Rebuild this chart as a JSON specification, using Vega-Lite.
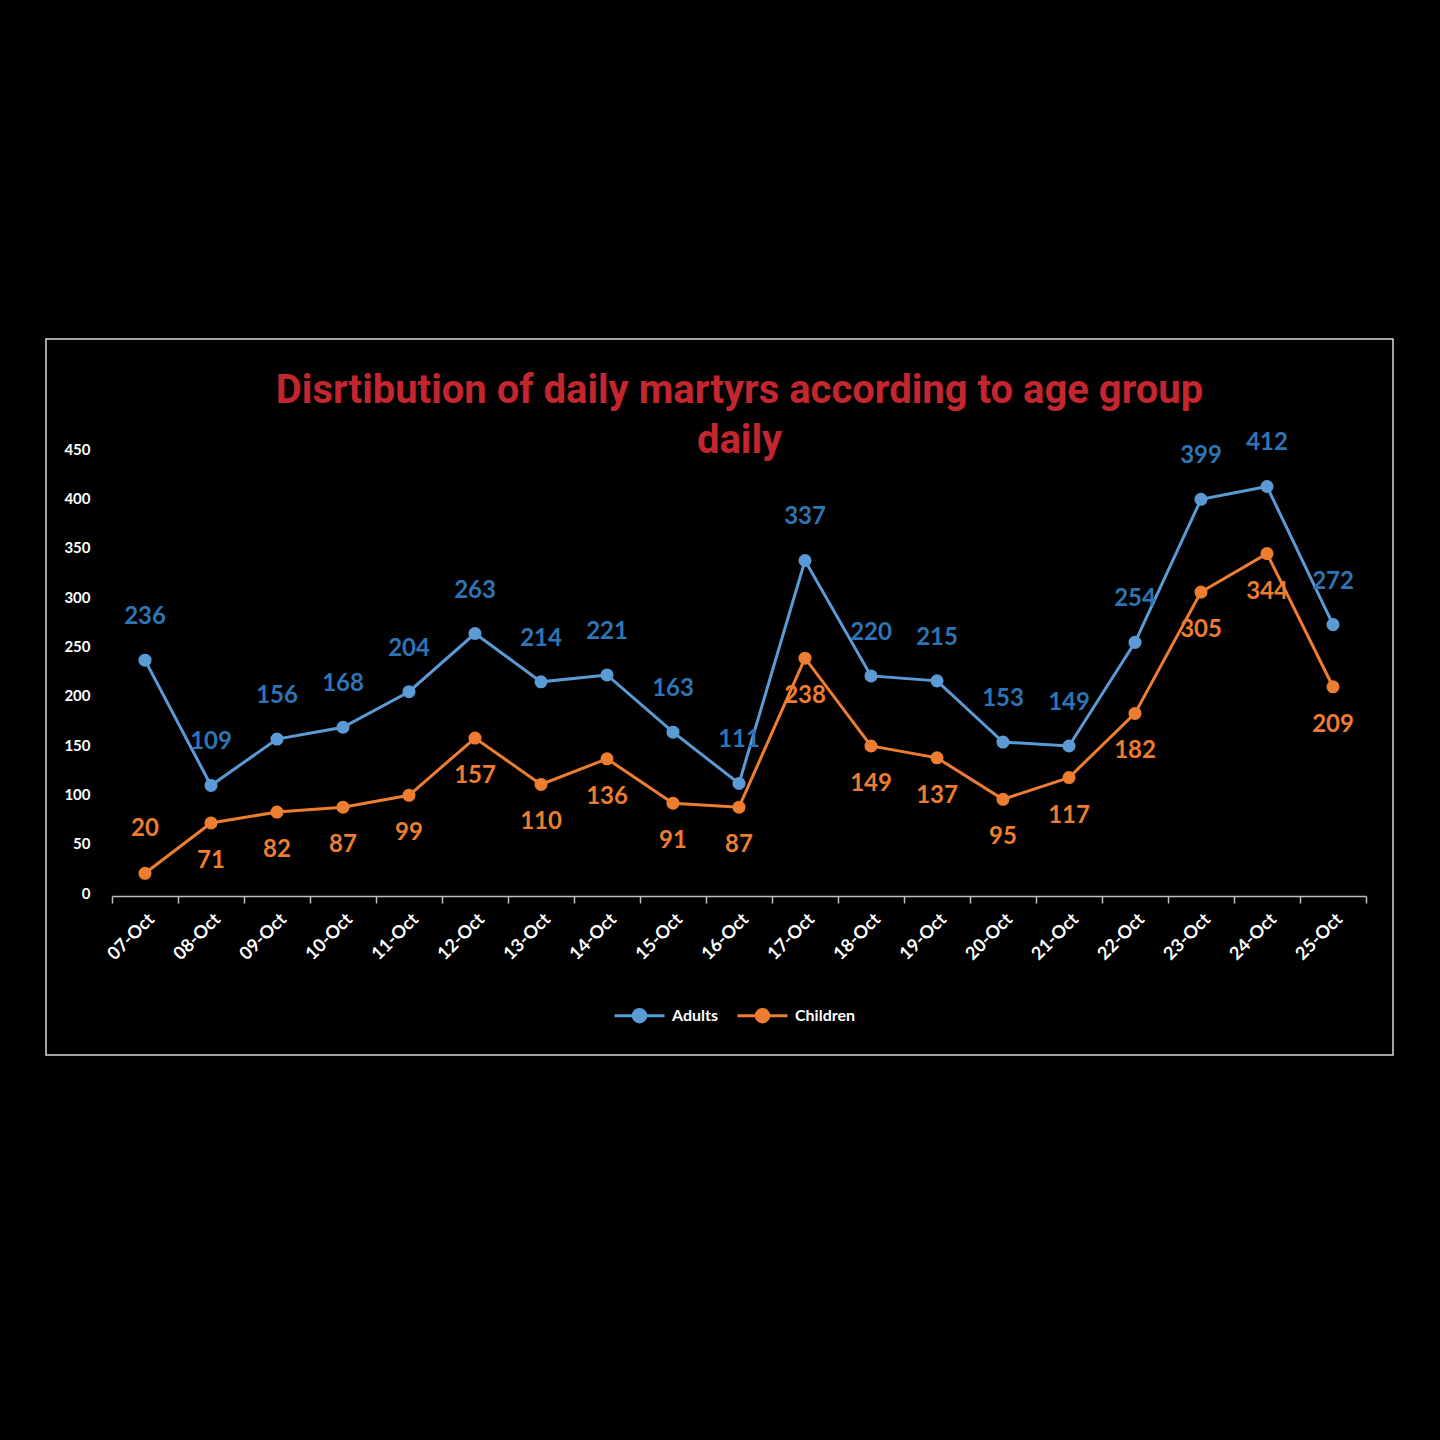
{
  "$schema": "https://vega.github.io/schema/vega-lite/v6.json",
  "width": 1347,
  "height": 716,
  "autosize": {"type": "none"},
  "padding": {"left": 46, "top": 339, "right": 47, "bottom": 385},
  "background": "#000000",
  "config": {
    "view": {"stroke": "#d9d9d9", "strokeWidth": 1.5, "fill": "#000000"},
    "font": "Lato"
  },
  "title": {
    "text": ["Disrtibution of  daily martyrs according to age group", "daily"],
    "color": "#C3262F",
    "font": "Roboto",
    "fontSize": 40,
    "fontWeight": "bold",
    "anchor": "middle",
    "lineHeight": 50,
    "offset": -122,
    "dx": 20
  },
  "data": {
    "values": [
      {"date": "07-Oct", "group": "Adults", "value": 236},
      {"date": "08-Oct", "group": "Adults", "value": 109},
      {"date": "09-Oct", "group": "Adults", "value": 156},
      {"date": "10-Oct", "group": "Adults", "value": 168},
      {"date": "11-Oct", "group": "Adults", "value": 204},
      {"date": "12-Oct", "group": "Adults", "value": 263},
      {"date": "13-Oct", "group": "Adults", "value": 214},
      {"date": "14-Oct", "group": "Adults", "value": 221},
      {"date": "15-Oct", "group": "Adults", "value": 163},
      {"date": "16-Oct", "group": "Adults", "value": 111},
      {"date": "17-Oct", "group": "Adults", "value": 337},
      {"date": "18-Oct", "group": "Adults", "value": 220},
      {"date": "19-Oct", "group": "Adults", "value": 215},
      {"date": "20-Oct", "group": "Adults", "value": 153},
      {"date": "21-Oct", "group": "Adults", "value": 149},
      {"date": "22-Oct", "group": "Adults", "value": 254},
      {"date": "23-Oct", "group": "Adults", "value": 399},
      {"date": "24-Oct", "group": "Adults", "value": 412},
      {"date": "25-Oct", "group": "Adults", "value": 272},
      {"date": "07-Oct", "group": "Children", "value": 20},
      {"date": "08-Oct", "group": "Children", "value": 71},
      {"date": "09-Oct", "group": "Children", "value": 82},
      {"date": "10-Oct", "group": "Children", "value": 87},
      {"date": "11-Oct", "group": "Children", "value": 99},
      {"date": "12-Oct", "group": "Children", "value": 157},
      {"date": "13-Oct", "group": "Children", "value": 110},
      {"date": "14-Oct", "group": "Children", "value": 136},
      {"date": "15-Oct", "group": "Children", "value": 91},
      {"date": "16-Oct", "group": "Children", "value": 87},
      {"date": "17-Oct", "group": "Children", "value": 238},
      {"date": "18-Oct", "group": "Children", "value": 149},
      {"date": "19-Oct", "group": "Children", "value": 137},
      {"date": "20-Oct", "group": "Children", "value": 95},
      {"date": "21-Oct", "group": "Children", "value": 117},
      {"date": "22-Oct", "group": "Children", "value": 182},
      {"date": "23-Oct", "group": "Children", "value": 305},
      {"date": "24-Oct", "group": "Children", "value": 344},
      {"date": "25-Oct", "group": "Children", "value": 209}
    ]
  },
  "encoding": {
    "x": {
      "field": "date",
      "type": "ordinal",
      "sort": null,
      "bandPosition": 0.5,
      "scale": {"type": "band", "paddingInner": 0, "paddingOuter": 0, "range": [66, 1320]},
      "axis": {
        "title": null,
        "tickBand": "extent",
        "labelAngle": -45,
        "labelColor": "#ffffff",
        "labelFont": "Lato",
        "labelFontSize": 18,
        "labelFontWeight": "bold",
        "labelPadding": 7,
        "domainColor": "#bfbfbf",
        "domainWidth": 1.5,
        "tickColor": "#bfbfbf",
        "tickWidth": 1.5,
        "tickSize": 7,
        "grid": false,
        "offset": -159
      }
    },
    "y": {
      "field": "value",
      "type": "quantitative",
      "scale": {"domain": [0, 450], "range": [554, 110], "nice": false},
      "axis": {
        "title": null,
        "values": [0, 50, 100, 150, 200, 250, 300, 350, 400, 450],
        "domain": false,
        "ticks": false,
        "tickSize": 0,
        "grid": false,
        "labelColor": "#ffffff",
        "labelFont": "Lato",
        "labelFontSize": 15,
        "labelFontWeight": "bold",
        "labelPadding": 0,
        "offset": -44
      }
    }
  },
  "layer": [
    {
      "mark": {"type": "line", "strokeWidth": 3},
      "encoding": {
        "color": {
          "field": "group",
          "type": "nominal",
          "scale": {"domain": ["Adults", "Children"], "range": ["#5B9BD5", "#ED7D31"]},
          "legend": {
            "title": null,
            "orient": "none",
            "legendX": 567,
            "legendY": 650,
            "direction": "horizontal",
            "padding": 0,
            "symbolType": "M-1,0L1,0M-0.25,0A0.25,0.25,0,1,1,0.25,0A0.25,0.25,0,1,1,-0.25,0",
            "symbolSize": 2500,
            "symbolStrokeWidth": 3,
            "labelColor": "#ffffff",
            "labelFont": "Lato",
            "labelFontSize": 16,
            "labelFontWeight": "bold",
            "labelOffset": 6,
            "columnPadding": 12,
            "encode": {
              "symbols": {
                "update": {
                  "fill": {"scale": "color", "field": "value"},
                  "stroke": {"scale": "color", "field": "value"},
                  "opacity": {"value": 1}
                }
              }
            }
          }
        }
      }
    },
    {
      "mark": {"type": "point", "filled": true, "size": 170, "opacity": 1},
      "encoding": {
        "color": {"field": "group", "type": "nominal"}
      }
    },
    {
      "transform": [{"filter": "datum.group === 'Adults'"}],
      "mark": {"type": "text", "dy": -43, "fontSize": 24, "fontWeight": "bold", "font": "Lato", "color": "#2E75B6"},
      "encoding": {"text": {"field": "value", "type": "quantitative"}}
    },
    {
      "transform": [{"filter": "datum.group === 'Children' && datum.date !== '07-Oct'"}],
      "mark": {"type": "text", "dy": 38, "fontSize": 24, "fontWeight": "bold", "font": "Lato", "color": "#ED7D31"},
      "encoding": {"text": {"field": "value", "type": "quantitative"}}
    },
    {
      "transform": [{"filter": "datum.group === 'Children' && datum.date === '07-Oct'"}],
      "mark": {"type": "text", "dy": -44, "fontSize": 24, "fontWeight": "bold", "font": "Lato", "color": "#ED7D31"},
      "encoding": {"text": {"field": "value", "type": "quantitative"}}
    }
  ]
}
